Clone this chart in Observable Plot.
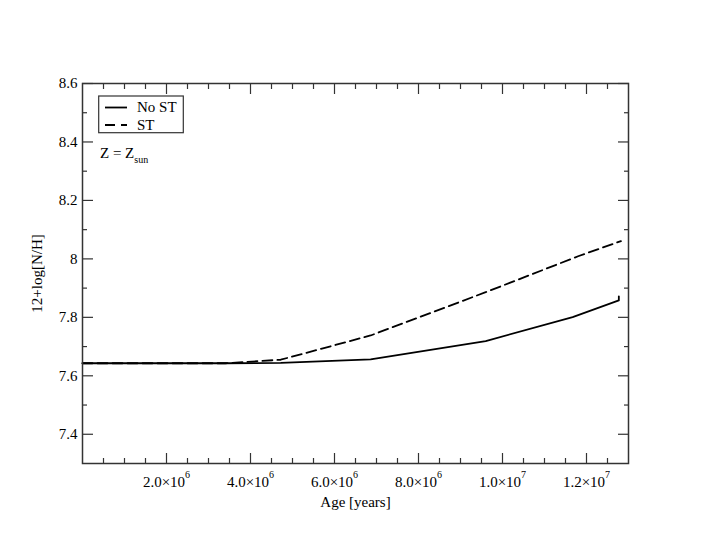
<!DOCTYPE html>
<html><head><meta charset="utf-8">
<script src="https://cdn.jsdelivr.net/npm/d3@7"></script>
<script src="https://cdn.jsdelivr.net/npm/@observablehq/plot@0.6"></script>
<style>
body{margin:0;background:#fff}
#chart{position:relative;width:707px;height:546px}
</style>
</head><body><div id="chart"></div>
<script>
// Data
const ageNoST = [0, 3.4e6, 4.72e6, 6.86e6, 9.6e6, 11.67e6, 12.77e6, 12.77e6];
const logNoST = [7.643, 7.643, 7.644, 7.656, 7.719, 7.801, 7.858, 7.872];
const ageST   = [0, 3.4e6, 4.72e6, 6.86e6, 9.6e6, 11.8e6, 12.82e6];
const logST   = [7.643, 7.643, 7.655, 7.738, 7.886, 8.009, 8.061];

const xMajor = [2e6, 4e6, 6e6, 8e6, 1e7, 1.2e7];
const xMantissa = ["2.0", "4.0", "6.0", "8.0", "1.0", "1.2"];
const xExponent = ["6", "6", "6", "6", "7", "7"];
const xMinor = d3.range(5e5, 1.3e7, 5e5).filter(v => !xMajor.some(m => Math.abs(m - v) < 1));
const yMajor = [7.4, 7.6, 7.8, 8.0, 8.2, 8.4, 8.6];
const yLabels = ["7.4", "7.6", "7.8", "8", "8.2", "8.4", "8.6"];
const yMinor = [7.5, 7.7, 7.9, 8.1, 8.3, 8.5];

const noST = ageNoST.map((a, i) => ({age: a, v: logNoST[i]}));
const st = ageST.map((a, i) => ({age: a, v: logST[i]}));

const font = "Liberation Serif, Times New Roman, serif";
const tickStroke = "#333";

const plot = Plot.plot({
  width: 707, height: 546,
  marginLeft: 82, marginRight: 79, marginTop: 83, marginBottom: 83,
  style: {fontFamily: font, fontSize: "15px", background: "#fff", color: "#000"},
  x: {domain: [0, 1.3e7]},
  y: {domain: [7.3, 8.6]},
  marks: [
    Plot.line(st, {x: "age", y: "v", stroke: "#000", strokeWidth: 1.8, strokeDasharray: "10,5"}),
    Plot.line(noST, {x: "age", y: "v", stroke: "#000", strokeWidth: 1.8}),
    // ticks (inward)
    Plot.axisX(xMajor, {anchor: "bottom", tickSize: -10, tickFormat: () => "", stroke: tickStroke, strokeWidth: 1.2, label: null}),
    Plot.axisX(xMinor, {anchor: "bottom", tickSize: -5, tickFormat: () => "", stroke: tickStroke, strokeWidth: 1.2, label: null}),
    Plot.axisX(xMajor, {anchor: "top", tickSize: -10, tickFormat: () => "", stroke: tickStroke, strokeWidth: 1.2, label: null}),
    Plot.axisX(xMinor, {anchor: "top", tickSize: -5, tickFormat: () => "", stroke: tickStroke, strokeWidth: 1.2, label: null}),
    Plot.axisY(yMajor, {anchor: "left", tickSize: -11, tickFormat: () => "", stroke: tickStroke, strokeWidth: 1.2, label: null}),
    Plot.axisY(yMinor, {anchor: "left", tickSize: -5, tickFormat: () => "", stroke: tickStroke, strokeWidth: 1.2, label: null}),
    Plot.axisY(yMajor, {anchor: "right", tickSize: -11, tickFormat: () => "", stroke: tickStroke, strokeWidth: 1.2, label: null}),
    Plot.axisY(yMinor, {anchor: "right", tickSize: -5, tickFormat: () => "", stroke: tickStroke, strokeWidth: 1.2, label: null}),
    // labels
    Plot.axisX(xMajor, {anchor: "bottom", tickSize: 0, tickPadding: 13,
      tickFormat: d => xMantissa[xMajor.indexOf(d)] + "×10",
      label: "Age [years]", labelAnchor: "center", labelArrow: "none", labelOffset: 43}),
    Plot.axisY(yMajor, {anchor: "left", tickSize: 0, tickPadding: 5,
      tickFormat: d => yLabels[yMajor.indexOf(d)],
      label: "12+log[N/H]", labelAnchor: "center", labelArrow: "none", labelOffset: 51}),
    Plot.frame({stroke: "#333", strokeWidth: 1.5})
  ]
});

document.getElementById("chart").appendChild(plot);
const svg = d3.select(plot);

// consistent text size for axis texts
svg.selectAll('g[aria-label$="tick label"] text, g[aria-label$="label"] text')
  .style("font-size", "15px").style("font-family", font);

// superscript exponents on x tick labels
svg.selectAll('g[aria-label="x-axis tick label"] text').each(function() {
  const t = d3.select(this);
  const txt = t.text();
  const k = xMantissa.findIndex(m => m + "×10" === txt);
  if (k >= 0) {
    t.append("tspan").attr("dy", "-9").style("font-size", "10px").text(xExponent[k]);
  }
});

// legend box
const g = svg.append("g").attr("font-family", font).style("font-size", "15px").attr("text-anchor", "start");
g.append("rect").attr("x", 98.7).attr("y", 96).attr("width", 84.6).attr("height", 36.7)
  .attr("fill", "#fff").attr("stroke", "#333").attr("stroke-width", 1.2);
g.append("line").attr("x1", 105).attr("x2", 127).attr("y1", 107.5).attr("y2", 107.5)
  .attr("stroke", "#000").attr("stroke-width", 1.8);
g.append("text").attr("x", 137).attr("y", 112).text("No ST");
g.append("line").attr("x1", 105).attr("x2", 127).attr("y1", 125).attr("y2", 125)
  .attr("stroke", "#000").attr("stroke-width", 1.8).attr("stroke-dasharray", "10,6");
g.append("text").attr("x", 137).attr("y", 130).text("ST");
const z = g.append("text").attr("x", 100).attr("y", 157.5).text("Z = Z");
z.append("tspan").attr("dy", "5").style("font-size", "10px").text("sun");
</script>
</body></html>
